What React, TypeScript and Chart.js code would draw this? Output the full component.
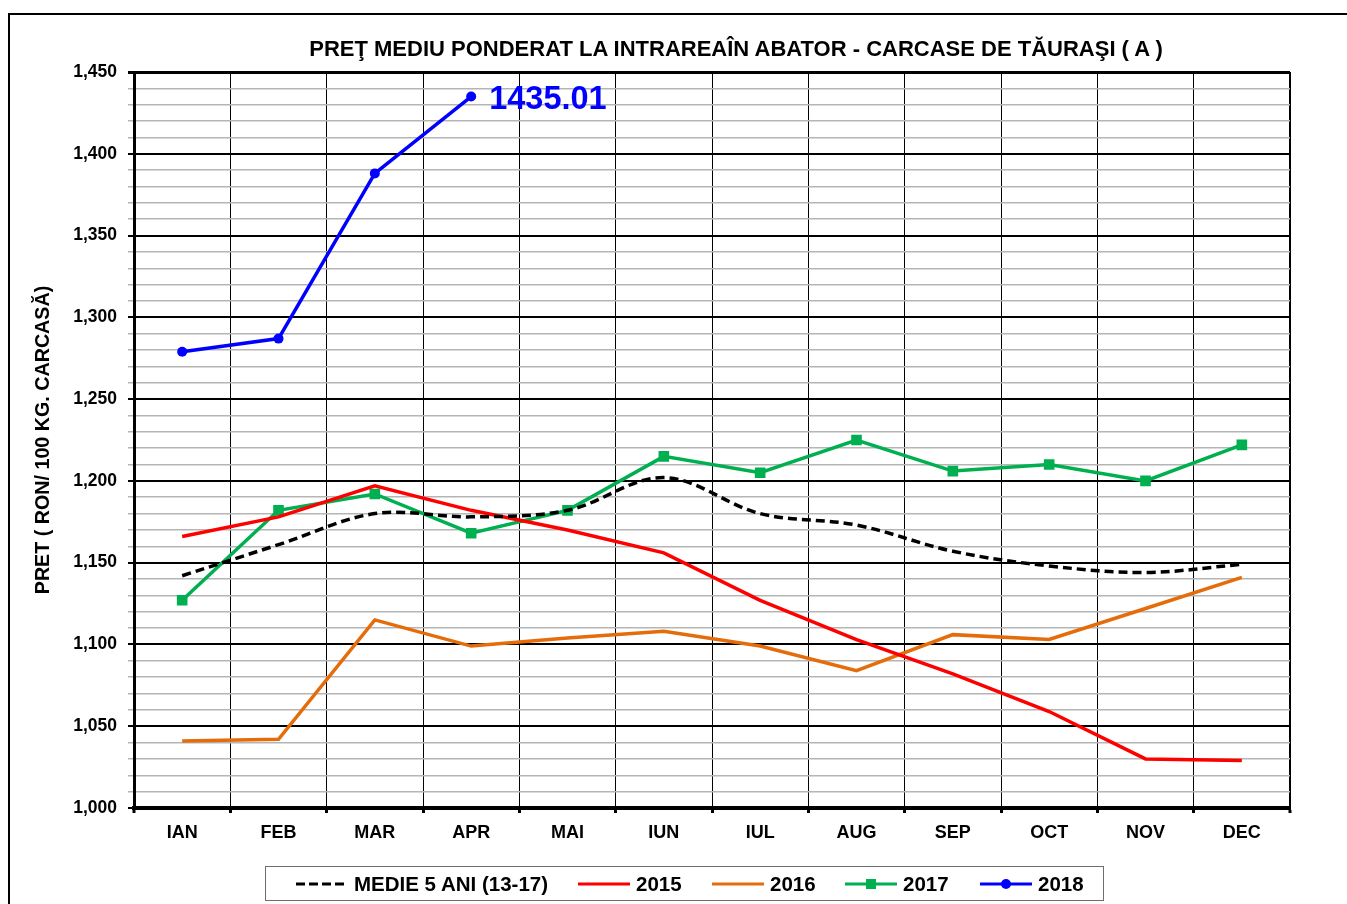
import React, { useEffect, useRef } from "react";
import { Chart, registerables } from "chart.js";

Chart.register(...registerables);

const months = ["IAN", "FEB", "MAR", "APR", "MAI", "IUN", "IUL", "AUG", "SEP", "OCT", "NOV", "DEC"];
const medie5 = [1142, 1161, 1180, 1178, 1182, 1202, 1180, 1173, 1157, 1148, 1144, 1149];
const s2015 = [1166, 1178, 1197, 1182, 1170, 1156, 1127, 1103, 1082, 1059, 1030, 1029];
const s2016 = [1041, 1042, 1115, 1099, 1104, 1108, 1099, 1084, 1106, 1103, 1122, 1141];
const s2017 = [1127, 1182, 1192, 1168, 1182, 1215, 1205, 1225, 1206, 1210, 1200, 1222];
const s2018 = [1279, 1287, 1388, 1435.01];

const yMin = 1000;
const yMax = 1450;
const yStep = 10;
const yMajor = 50;

const titleText = "PREŢ MEDIU PONDERAT LA INTRAREAÎN ABATOR - CARCASE DE TĂURAŞI ( A )";
const yTitle = "PRET ( RON/ 100 KG. CARCASĂ)";
const legendLabels = ["MEDIE 5 ANI (13-17)", "2015", "2016", "2017", "2018"];

const FONT = "'Liberation Sans', Arial, sans-serif";
const C_AVG = "#000000";
const C_2015 = "#ff0000";
const C_2016 = "#e46c0a";
const C_2017 = "#00b050";
const C_2018 = "#0000ff";

const lastLabelPlugin = {
  id: "lastLabel",
  afterDatasetsDraw(chart: any) {
    const meta = chart.getDatasetMeta(4);
    const pts = meta.data;
    if (!pts || !pts.length) return;
    const pt = pts[pts.length - 1];
    const ctx = chart.ctx;
    ctx.save();
    ctx.font = `bold 32.5px ${FONT}`;
    ctx.fillStyle = C_2018;
    ctx.textBaseline = "middle";
    ctx.textAlign = "left";
    ctx.fillText(s2018[s2018.length - 1].toFixed(2), pt.x + 18, pt.y + 4);
    ctx.restore();
  },
};

function fmt(v: number) {
  return v.toLocaleString("en-US");
}

function LegendSample({ kind }: { kind: number }) {
  const w = 52;
  const colors = [C_AVG, C_2015, C_2016, C_2017, C_2018];
  return (
    <svg width={w} height={12} style={{ display: "block" }}>
      <line
        x1={0}
        y1={6}
        x2={w}
        y2={6}
        stroke={colors[kind]}
        strokeWidth={3}
        strokeDasharray={kind === 0 ? "9 4" : undefined}
      />
      {kind === 3 && <rect x={w / 2 - 5} y={1} width={10} height={10} fill={C_2017} />}
      {kind === 4 && <circle cx={w / 2} cy={6} r={5} fill={C_2018} />}
    </svg>
  );
}

export default function App() {
  const canvasRef = useRef<HTMLCanvasElement | null>(null);

  useEffect(() => {
    const canvas = canvasRef.current;
    if (!canvas) return;
    const chart = new Chart(canvas, {
      type: "line",
      data: {
        labels: months,
        datasets: [
          {
            label: legendLabels[0],
            data: medie5,
            borderColor: C_AVG,
            borderWidth: 3.5,
            borderDash: [9, 5],
            pointRadius: 0,
            tension: 0.35,
            fill: false,
          },
          {
            label: legendLabels[1],
            data: s2015,
            borderColor: C_2015,
            borderWidth: 3.5,
            pointRadius: 0,
            tension: 0,
            fill: false,
          },
          {
            label: legendLabels[2],
            data: s2016,
            borderColor: C_2016,
            borderWidth: 3.5,
            pointRadius: 0,
            tension: 0,
            fill: false,
          },
          {
            label: legendLabels[3],
            data: s2017,
            borderColor: C_2017,
            backgroundColor: C_2017,
            borderWidth: 3.5,
            pointStyle: "rect",
            pointRadius: 7.5,
            pointBorderWidth: 0,
            pointBackgroundColor: C_2017,
            tension: 0,
            fill: false,
          },
          {
            label: legendLabels[4],
            data: s2018,
            borderColor: C_2018,
            backgroundColor: C_2018,
            borderWidth: 3.5,
            pointStyle: "circle",
            pointRadius: 5,
            pointBorderWidth: 0,
            pointBackgroundColor: C_2018,
            tension: 0,
            fill: false,
          },
        ],
      },
      options: {
        animation: false,
        responsive: true,
        maintainAspectRatio: false,
        layout: { padding: { left: 0, top: 72, right: 57, bottom: 0 } },
        plugins: {
          legend: { display: false },
          title: { display: false },
          tooltip: { enabled: false },
        },
        scales: {
          x: {
            type: "category",
            offset: true,
            afterFit: (s: any) => {
              s.height = 96;
            },
            grid: {
              offset: true,
              color: "#000000",
              lineWidth: (c: any) => (c.index === undefined || c.index === 0 ? 2 : 1),
              tickLength: 5,
              tickColor: "#000000",
              tickWidth: 3,
            },
            border: { display: true, color: "#000000", width: 4 },
            ticks: {
              color: "#000000",
              font: { family: FONT, size: 18, weight: "bold" },
              padding: 9,
              autoSkip: false,
              maxRotation: 0,
            },
          },
          y: {
            min: yMin,
            max: yMax,
            afterFit: (s: any) => {
              s.width = 134;
            },
            ticks: {
              stepSize: yStep,
              autoSkip: false,
              color: "#000000",
              font: { family: FONT, size: 17.5, weight: "bold" },
              padding: 11,
              callback: (v: any) => (Number(v) % yMajor === 0 ? fmt(Number(v)) : ""),
            },
            grid: {
              color: (c: any) => (c.tick && c.tick.value % yMajor === 0 ? "#000000" : "#b5b5b5"),
              lineWidth: (c: any) =>
                c.tick && c.tick.value === yMax ? 3 : c.tick && c.tick.value % yMajor === 0 ? 2 : 1.5,
              tickLength: 6,
            },
            border: { display: true, color: "#000000", width: 3 },
            title: {
              display: true,
              text: yTitle,
              color: "#000000",
              font: { family: FONT, size: 19.7, weight: "bold" },
              padding: { top: 32, bottom: 0 },
            },
          },
        },
      },
      plugins: [lastLabelPlugin],
    } as any);
    return () => chart.destroy();
  }, []);

  const legendStarts = [296, 578, 712, 845, 980];

  return (
    <div
      style={{
        position: "fixed",
        left: 0,
        top: 0,
        width: 1347,
        height: 904,
        overflow: "hidden",
        background: "#ffffff",
        fontFamily: FONT,
      }}
    >
      <div style={{ position: "absolute", left: 0, top: 0, width: 1347, height: 904 }}>
        <canvas ref={canvasRef} />
      </div>
      <div
        style={{
          position: "absolute",
          left: 8,
          top: 13,
          width: 1400,
          height: 1000,
          borderLeft: "2px solid #000",
          borderTop: "2px solid #000",
          pointerEvents: "none",
        }}
      />
      <div
        style={{
          position: "absolute",
          left: 236,
          width: 1000,
          top: 34,
          textAlign: "center",
          fontWeight: "bold",
          fontSize: 22,
          lineHeight: "30px",
          color: "#000",
          whiteSpace: "nowrap",
        }}
      >
        {titleText}
      </div>
      <div
        style={{
          position: "absolute",
          left: 265,
          top: 866,
          width: 839,
          height: 35,
          boxSizing: "border-box",
          border: "1.5px solid #6e6e6e",
          background: "#fff",
        }}
      />
      {legendLabels.map((lab, i) => (
        <div
          key={lab}
          style={{
            position: "absolute",
            left: legendStarts[i],
            top: 870,
            height: 28,
            display: "flex",
            alignItems: "center",
          }}
        >
          <LegendSample kind={i} />
          <span
            style={{
              marginLeft: 6,
              fontWeight: "bold",
              fontSize: 20.5,
              color: "#000",
              whiteSpace: "nowrap",
            }}
          >
            {lab}
          </span>
        </div>
      ))}
    </div>
  );
}
